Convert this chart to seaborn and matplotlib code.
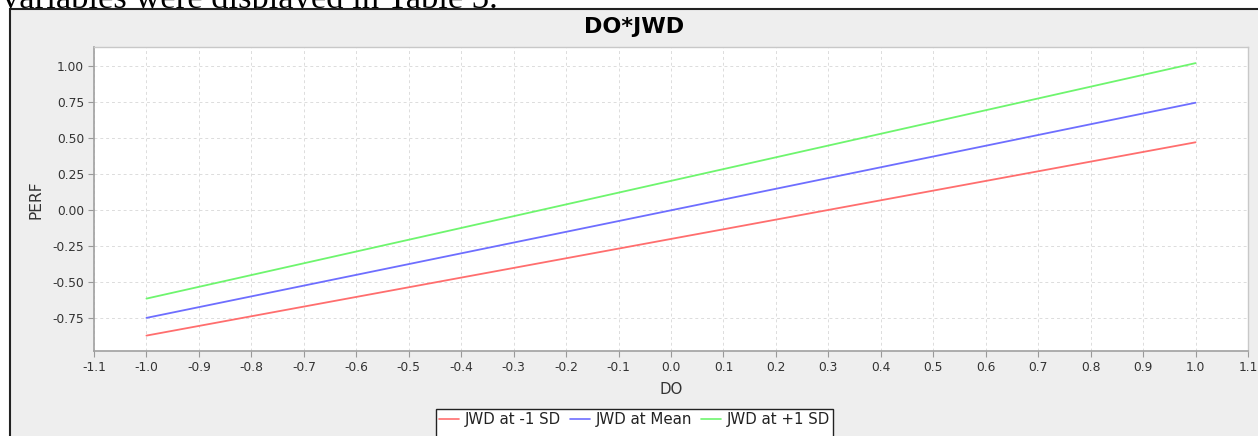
import numpy as np
import pandas as pd
import matplotlib
matplotlib.use("Agg")
import matplotlib.pyplot as plt
from matplotlib.patches import Rectangle
from matplotlib.lines import Line2D
import seaborn as sns

# ---- data ----
do_values = [-1.0, 1.0]
series_names = ["JWD at -1 SD", "JWD at Mean", "JWD at +1 SD"]
perf_low = [-0.873, 0.470]
perf_mean = [-0.750, 0.745]
perf_high = [-0.616, 1.020]
x_ticks = [-1.1, -1.0, -0.9, -0.8, -0.7, -0.6, -0.5, -0.4, -0.3, -0.2, -0.1,
           0.0, 0.1, 0.2, 0.3, 0.4, 0.5, 0.6, 0.7, 0.8, 0.9, 1.0, 1.1]
x_tick_labels = ["-1.1", "-1.0", "-0.9", "-0.8", "-0.7", "-0.6", "-0.5", "-0.4",
                 "-0.3", "-0.2", "-0.1", "0.0", "0.1", "0.2", "0.3", "0.4",
                 "0.5", "0.6", "0.7", "0.8", "0.9", "1.0", "1.1"]
y_ticks = [-0.75, -0.50, -0.25, 0.00, 0.25, 0.50, 0.75, 1.00]
y_tick_labels = ["-0.75", "-0.50", "-0.25", "0.00", "0.25", "0.50", "0.75", "1.00"]
colors = ["#FF6E6E", "#6E6EFF", "#6EF56E"]

df = pd.DataFrame({
    "DO": do_values * 3,
    "PERF": perf_low + perf_mean + perf_high,
    "series": [series_names[0]] * 2 + [series_names[1]] * 2 + [series_names[2]] * 2,
})

sns.set_style("white")
plt.rcParams["font.family"] = ["DejaVu Sans"]

W, H = 1258, 436
fig = plt.figure(figsize=(W / 100, H / 100), dpi=100)
fig.patch.set_facecolor("white")

def fx(px):
    return px / W

def fy(py):
    return 1 - py / H

# document text above chart (partly hidden behind the chart panel)
fig.text(fx(2), fy(8), "variables were displayed in Table 3.", fontsize=24.8,
         family="Liberation Serif", ha="left", va="baseline", color="black", zorder=0)

# chart panel
panel = Rectangle((fx(10), -0.05), 1.1, (H - 9) / H + 0.05, transform=fig.transFigure,
                  facecolor="#EEEEEE", edgecolor="#222222", linewidth=1.5, zorder=1)
fig.patches.append(panel)

ax = fig.add_axes([fx(94), fy(351), (1248 - 94) / W, (351 - 47) / H])
ax.set_zorder(2)
ax.set_facecolor("white")

sns.lineplot(data=df, x="DO", y="PERF", hue="series", palette=colors, ax=ax,
             linewidth=1.3, legend=False)

ax.set_xlim(-1.1, 1.1)
ax.set_ylim(-0.98, 1.132)
ax.set_xticks(x_ticks)
ax.set_xticklabels(x_tick_labels)
ax.set_yticks(y_ticks)
ax.set_yticklabels(y_tick_labels)
ax.grid(True, color="#DCDCDC", linestyle=(0, (3, 3)), linewidth=0.7)
ax.tick_params(axis="both", direction="out", length=4, width=0.8, color="#999999",
               labelsize=8.8, labelcolor="#333333", pad=3, bottom=True, left=True)
for s in ["left", "bottom"]:
    ax.spines[s].set_color("#A0A0A0")
    ax.spines[s].set_linewidth(1.2)
for s in ["top", "right"]:
    ax.spines[s].set_color("#C8C8C8")
    ax.spines[s].set_linewidth(1.0)

ax.set_xlabel("")
ax.set_ylabel("")
fig.text(fx(671), fy(389), "DO", fontsize=10.8, color="#333333",
         ha="center", va="center", zorder=3)
fig.text(fx(36), fy(200), "PERF", fontsize=11.2, color="#333333", rotation=90,
         ha="center", va="center", zorder=3)
fig.text(fx(634), fy(27), "DO*JWD", fontsize=16, fontweight="bold", color="black",
         ha="center", va="center", zorder=3)

handles = [Line2D([0], [0], color=c, linewidth=1.2) for c in colors]
leg = fig.legend(handles, series_names, loc="upper center", ncol=3,
                 bbox_to_anchor=(fx(634.5), fy(409)), frameon=False,
                 fontsize=10.8, handlelength=1.35, handletextpad=0.4, columnspacing=0.55,
                 borderpad=0.2, borderaxespad=0, labelcolor="#222222")
leg.set_zorder(4)

# legend frame: white box whose bottom runs past the figure edge (as in the reference)
fig.canvas.draw()
bb = leg.get_window_extent(fig.canvas.get_renderer()).transformed(fig.transFigure.inverted())
frame = Rectangle((bb.x0, -0.05), bb.width, bb.y1 + 0.05, transform=fig.transFigure,
                  facecolor="white", edgecolor="#222222", linewidth=1.0, zorder=3)
fig.patches.append(frame)

fig.savefig("out.png", dpi=100)
